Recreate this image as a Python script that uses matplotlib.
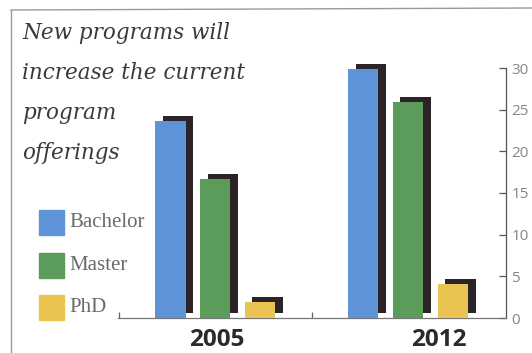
import matplotlib
matplotlib.use("Agg")
import matplotlib.pyplot as plt
from matplotlib.lines import Line2D
from matplotlib.patches import Rectangle
import numpy as np

years = ["2005", "2012"]
programs = ["Bachelor", "Master", "PhD"]
bachelor = [23.6, 29.9]
master = [16.7, 25.9]
phd = [1.9, 4.1]
title_lines = ["New programs will", "increase the current", "program", "offerings"]

colors = ["#5e93d8", "#5b9c5b", "#e9c452"]
shadow = "#2b2326"

fig = plt.figure(figsize=(5.32, 3.53), dpi=100)
fig.patch.set_facecolor("white")
ax = fig.add_axes([118 / 532, 35 / 353, 388 / 532, 250 / 353])
ax.set_facecolor("none")

x = np.arange(len(years))
w, step = 0.16, 0.233
dx, dy = 0.041, 0.6
for i, (vals, c) in enumerate(zip([bachelor, master, phd], colors)):
    pos = x + (i - 1) * step
    # black drop shadow behind each bar
    ax.bar(pos + dx, vals, width=w, bottom=dy, color=shadow, zorder=2, clip_on=False)
    ax.bar(pos, vals, width=w, color=c, zorder=3, clip_on=False)

ax.set_xlim(-0.503, 1.508)
ax.set_ylim(0, 30)
ax.yaxis.tick_right()
ax.set_yticks(range(0, 31, 5))
ax.tick_params(axis="y", direction="in", length=5, width=0.9, color="#555555",
               labelsize=11, labelcolor="#858585", pad=4)
for lab in ax.get_yticklabels():
    lab.set_family("Open Sans")
ax.set_xticks([-0.5, 0.5])
ax.set_xticklabels([])
ax.tick_params(axis="x", direction="in", length=4, width=0.9, color="#666666")
for s in ["left", "top"]:
    ax.spines[s].set_visible(False)
ax.spines["right"].set_color("#555555")
ax.spines["bottom"].set_color("#777777")
ax.spines["right"].set_linewidth(0.9)
ax.spines["bottom"].set_linewidth(0.9)

for xi, yr, sh in zip(x, years, [0.01, 0.16]):
    ax.text(xi + sh, -3.35, yr, ha="center", va="baseline", fontsize=17.5,
            fontweight="bold", family="Open Sans", color="#2a2a2a", clip_on=False)

# frame
fig.add_artist(Line2D([11 / 532, 11 / 532], [0, 1 - 10 / 353], color="#999999", lw=1))
fig.add_artist(Line2D([11 / 532, 1], [1 - 10 / 353, 1 - 8 / 353], color="#999999", lw=1))

for k, line in enumerate(title_lines):
    fig.text(22 / 532, 1 - (33 + 40 * k) / 353, line, ha="left", va="center",
             fontsize=15.5, style="italic", family="DejaVu Serif", color="#3a3a3a")

for k, (name, c) in enumerate(zip(programs, colors)):
    yc = 222.5 + 42.5 * k
    fig.add_artist(Rectangle((39 / 532, 1 - (yc + 12.5) / 353), 25 / 532, 25 / 353,
                             transform=fig.transFigure, color=c))
    fig.text(69 / 532, 1 - yc / 353, name, ha="left", va="center", fontsize=15,
             family="Liberation Serif", color="#6a6a6a")

fig.savefig("out.png", dpi=100)
